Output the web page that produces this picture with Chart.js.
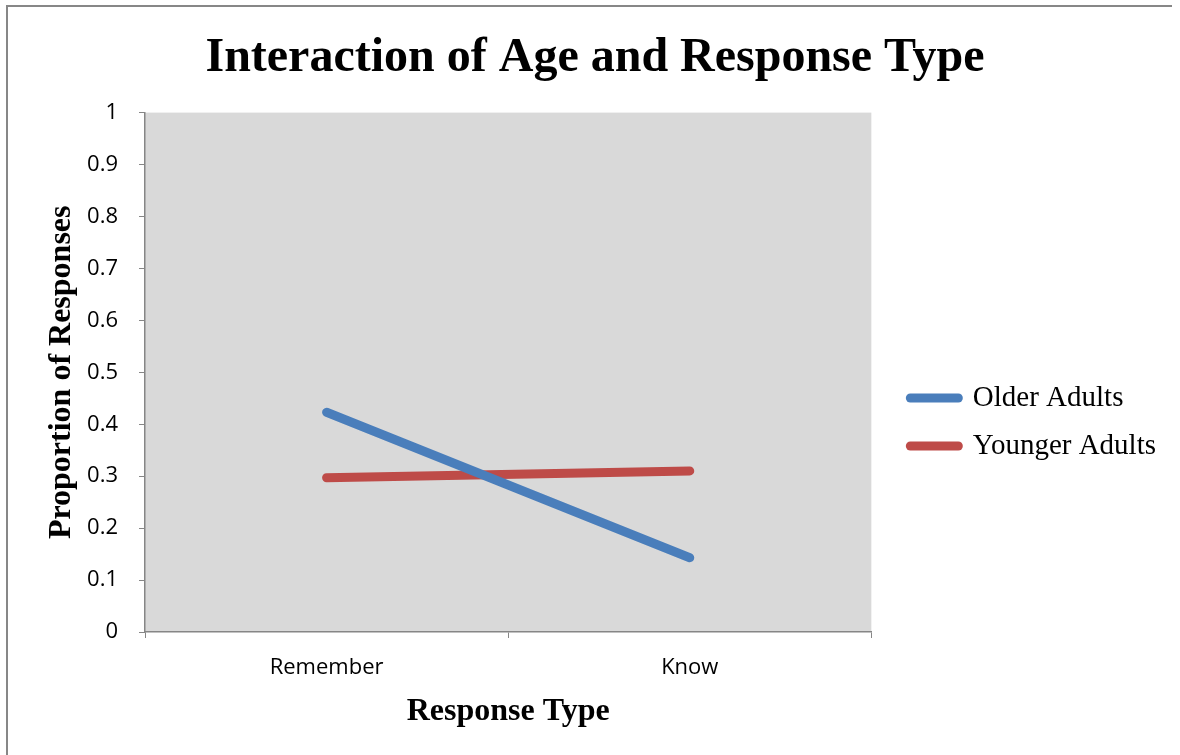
<!DOCTYPE html>
<html>
<head>
<meta charset="utf-8">
<script src="https://cdn.jsdelivr.net/npm/chart.js@4.4.1/dist/chart.umd.min.js"></script>
<style>
    body { margin: 0; background: #fff; }
    #frame { position: absolute; left: 6px; top: 5px; width: 1164px; height: 760px; border-left: 2px solid #878787; border-top: 2px solid #878787; }
    #wrap { position: absolute; left: 0; top: 0; width: 1180px; height: 755px; }
</style>
</head>
<body>
<div id="frame"></div>
<div id="wrap"><canvas id="age_response_chart"></canvas></div>
<script>
const categories = ['Remember', 'Know'];
const olderAdults = [0.423, 0.143];
const youngerAdults = [0.297, 0.310];
const seriesNames = ['Older Adults', 'Younger Adults'];

// grey plot area like the excel original
const plotBackground = {
    id: 'plotBackground',
    beforeDraw(chart) {
        const a = chart.chartArea;
        chart.ctx.save();
        chart.ctx.fillStyle = '#d9d9d9';
        chart.ctx.fillRect(a.left, a.top, a.right - a.left, a.bottom - a.top);
        chart.ctx.restore();
    }
};

// make the legend box wider and move its items away from the plot
const legendShift = {
    id: 'legendShift',
    beforeLayout(chart) {
        const legend = chart.legend;
        if (legend && !legend._wider) {
            const fit = legend.fit;
            legend.fit = function() {
                fit.call(this);
                this.width += 34;
            };
            legend._wider = true;
        }
    },
    afterLayout(chart) {
        chart.legend.left += 20;
        chart.legend.right += 20;
    }
};

const ctx = document.getElementById('age_response_chart').getContext('2d');
const ageChart = new Chart(ctx, {
    type: 'line',
    data: {
        labels: categories,
        datasets: [
            {
                label: seriesNames[0],
                data: olderAdults,
                borderColor: '#4a7ebb',
                backgroundColor: '#4a7ebb',
                borderWidth: 9,
                borderCapStyle: 'round',
                pointRadius: 0,
                tension: 0
            },
            {
                label: seriesNames[1],
                data: youngerAdults,
                borderColor: '#be4b48',
                backgroundColor: '#be4b48',
                borderWidth: 9,
                borderCapStyle: 'round',
                pointRadius: 0,
                tension: 0
            }
        ]
    },
    options: {
        responsive: true,
        maintainAspectRatio: false,
        animation: false,
        layout: {
            padding: { left: 10, right: 0, top: 0, bottom: 0 }
        },
        plugins: {
            title: {
                display: true,
                text: 'Interaction of Age and Response Type',
                color: '#000',
                font: { family: 'Liberation Serif', size: 48, weight: 'bold' },
                padding: { top: 30, bottom: 25 }
            },
            legend: {
                display: true,
                position: 'right',
                title: {
                    display: true,
                    text: ' ',
                    font: { size: 10 },
                    padding: { top: 77, bottom: 0 }
                },
                labels: {
                    usePointStyle: true,
                    pointStyle: 'line',
                    pointStyleWidth: 48,
                    padding: 19,
                    color: '#000',
                    font: { family: 'Liberation Serif', size: 29 },
                    generateLabels: function(chart) {
                        const items = Chart.defaults.plugins.legend.labels.generateLabels(chart);
                        items.forEach(item => {
                            item.lineCap = 'round';
                            item.lineWidth = 9;
                        });
                        return items;
                    }
                }
            },
            tooltip: { enabled: false }
        },
        scales: {
            x: {
                offset: true,
                grid: {
                    offset: true,
                    drawOnChartArea: false,
                    drawTicks: true,
                    tickLength: 6,
                    color: '#868686'
                },
                border: { color: '#868686', width: 1.5 },
                ticks: {
                    color: '#000',
                    padding: 17,
                    font: { family: 'Open Sans', size: 22 }
                },
                title: {
                    display: true,
                    text: 'Response Type',
                    color: '#000',
                    font: { family: 'Liberation Serif', size: 32, weight: 'bold' },
                    padding: { top: 0, bottom: 24 }
                },
                afterFit(scale) {
                    scale.height = 123;
                }
            },
            y: {
                min: 0,
                max: 1,
                grid: {
                    drawOnChartArea: false,
                    drawTicks: true,
                    tickLength: 6,
                    color: '#868686'
                },
                border: { color: '#868686', width: 1.5 },
                ticks: {
                    stepSize: 0.1,
                    color: '#000',
                    padding: 21,
                    font: { family: 'Open Sans', size: 22 },
                    callback: function(value) {
                        return String(Math.round(value * 10) / 10);
                    }
                },
                title: {
                    display: true,
                    text: 'Proportion of Responses',
                    color: '#000',
                    font: { family: 'Liberation Serif', size: 32, weight: 'bold' },
                    padding: { top: 33, bottom: 0 }
                },
                afterFit(scale) {
                    scale.width = 135;
                }
            }
        }
    },
    plugins: [plotBackground, legendShift]
});
</script>
</body>
</html>
